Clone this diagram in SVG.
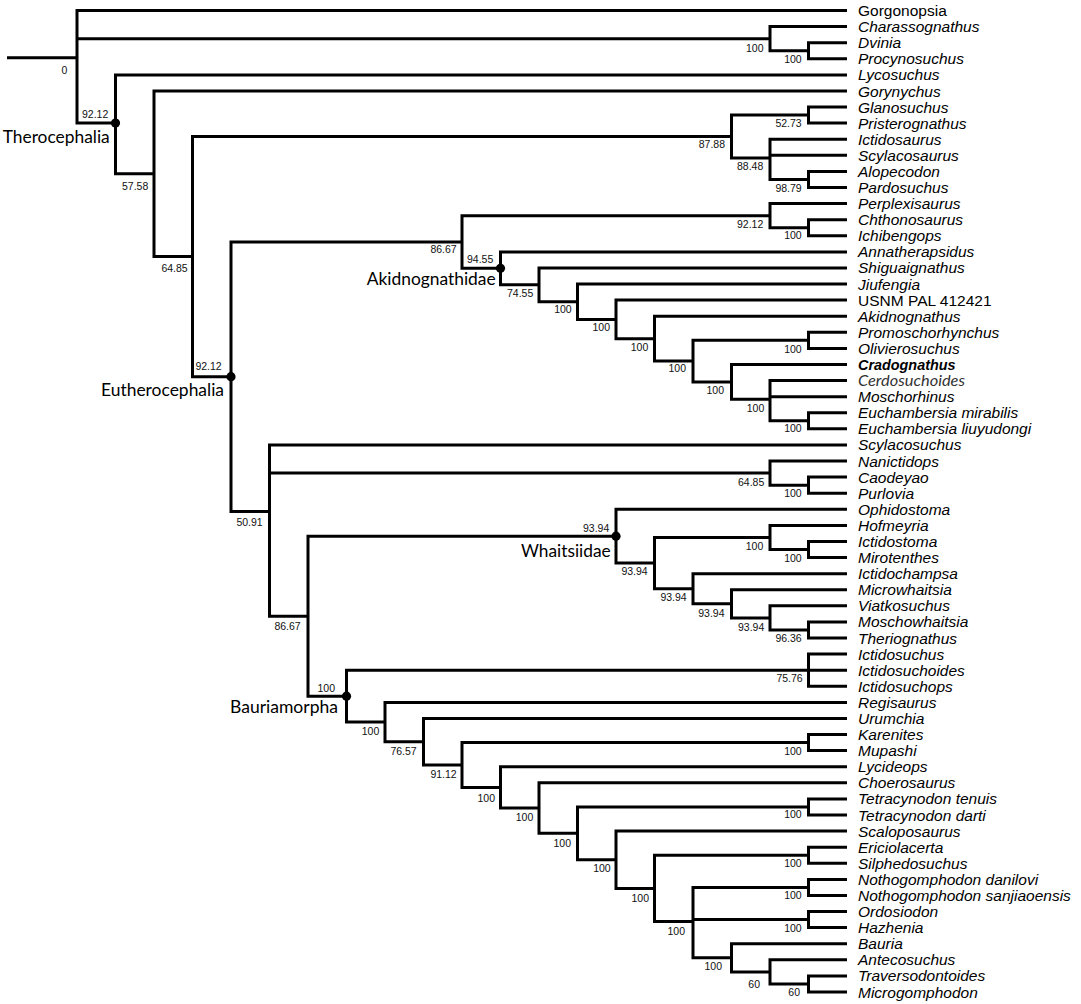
<svg xmlns="http://www.w3.org/2000/svg" width="1081" height="1004" viewBox="0 0 1081 1004">
<style>
.br{fill:none;stroke:#000;stroke-width:3;stroke-linejoin:miter;stroke-linecap:butt}
.tx{font-family:"Liberation Sans",Arial,sans-serif;font-size:15.5px;font-style:italic;fill:#000}
.up{font-style:normal}
.bd{font-weight:bold;font-size:14.4px}
.cd{font-family:Lato,"Liberation Sans",sans-serif;font-size:15.5px;font-style:italic;fill:#333}
.bs{font-family:"Liberation Sans",Arial,sans-serif;font-size:10.5px;fill:#111;text-anchor:end}
.cl{font-family:Lato,"Open Sans","Liberation Sans",sans-serif;font-size:18px;fill:#000}
.dot{fill:#000}
</style>
<rect width="1081" height="1004" fill="#fff"/>
<g id="connectors">
<path class="br" d="M7,57.85H77M847,10.5H77V123H115.5M77,38.7H770"/>
<path class="br" d="M847,26.6H770V50.75H808.5"/>
<path class="br" d="M847,42.7H808.5V58.8H847"/>
<path class="br" d="M847,74.9H115.5V173.8H154"/>
<path class="br" d="M847,91H154V256.6H192.5"/>
<path class="br" d="M731.5,136.5H192.5V376.7H231"/>
<path class="br" d="M808.5,115.05H731.5V157.98H770"/>
<path class="br" d="M847,107H808.5V123.1H847"/>
<path class="br" d="M847,139.2H770V179.45H808.5M770,155.3H847"/>
<path class="br" d="M847,171.4H808.5V187.5H847"/>
<path class="br" d="M462,242H231V511.4H269.5"/>
<path class="br" d="M770,215.7H462V268.35H500.5"/>
<path class="br" d="M847,203.6H770V227.75H808.5"/>
<path class="br" d="M847,219.7H808.5V235.8H847"/>
<path class="br" d="M847,251.9H500.5V284.8H539"/>
<path class="br" d="M847,267.9H539V301.7H577.5"/>
<path class="br" d="M847,284H577.5V319.4H616"/>
<path class="br" d="M847,300.1H616V338.7H654.5"/>
<path class="br" d="M847,316.2H654.5V361.1H693"/>
<path class="br" d="M808.5,340.35H693V381.9H731.5"/>
<path class="br" d="M847,332.3H808.5V348.4H847"/>
<path class="br" d="M847,364.5H731.5V399.37H770"/>
<path class="br" d="M847,380.6H770V420.8H808.5M770,396.7H847"/>
<path class="br" d="M847,412.8H808.5V428.8H847"/>
<path class="br" d="M847,444.9H269.5V616.2H308M269.5,473.1H770"/>
<path class="br" d="M847,461H770V485.15H808.5"/>
<path class="br" d="M847,477.1H808.5V493.2H847"/>
<path class="br" d="M616,536.2H308V696.15H346.5"/>
<path class="br" d="M847,509.3H616V563.1H654.5"/>
<path class="br" d="M770,537.5H654.5V588.75H693"/>
<path class="br" d="M847,525.4H770V549.55H808.5"/>
<path class="br" d="M847,541.5H808.5V557.6H847"/>
<path class="br" d="M847,573.7H693V603.8H731.5"/>
<path class="br" d="M847,589.7H731.5V617.9H770"/>
<path class="br" d="M847,605.8H770V629.95H808.5"/>
<path class="br" d="M847,621.9H808.5V638H847"/>
<path class="br" d="M808.5,670.2H346.5V722.1H385"/>
<path class="br" d="M847,654.1H808.5V686.3H847M808.5,670.2H847"/>
<path class="br" d="M847,702.4H385V741.75H423.5"/>
<path class="br" d="M847,718.5H423.5V765H462"/>
<path class="br" d="M808.5,742.6H462V787.4H500.5"/>
<path class="br" d="M847,734.6H808.5V750.6H847"/>
<path class="br" d="M847,766.7H500.5V808.1H539"/>
<path class="br" d="M847,782.8H539V833.35H577.5"/>
<path class="br" d="M808.5,806.95H577.5V859.75H616"/>
<path class="br" d="M847,798.9H808.5V815H847"/>
<path class="br" d="M847,831.1H616V888.4H654.5"/>
<path class="br" d="M808.5,855.25H654.5V921.6H693"/>
<path class="br" d="M847,847.2H808.5V863.3H847"/>
<path class="br" d="M808.5,887.45H693V957.8H731.5M693,919.55H808.5"/>
<path class="br" d="M847,879.4H808.5V895.5H847"/>
<path class="br" d="M847,911.5H808.5V927.6H847"/>
<path class="br" d="M847,943.7H731.5V971.9H770"/>
<path class="br" d="M847,959.8H770V983.95H808.5"/>
<path class="br" d="M847,975.9H808.5V992H847"/>
</g>
<g id="clades">
<g id="therocephalia"><circle class="dot" cx="115.5" cy="123" r="4.6"/><text class="cl" x="2.7" y="143" textLength="107" lengthAdjust="spacingAndGlyphs">Therocephalia</text></g>
<g id="eutherocephalia"><circle class="dot" cx="231" cy="376.7" r="4.6"/><text class="cl" x="101" y="396" textLength="123" lengthAdjust="spacingAndGlyphs">Eutherocephalia</text></g>
<g id="akidnognathidae"><circle class="dot" cx="500.5" cy="268.35" r="4.6"/><text class="cl" x="366.7" y="285" textLength="129" lengthAdjust="spacingAndGlyphs">Akidnognathidae</text></g>
<g id="whaitsiidae"><circle class="dot" cx="616" cy="536.2" r="4.6"/><text class="cl" x="521" y="557" textLength="89.7" lengthAdjust="spacingAndGlyphs">Whaitsiidae</text></g>
<g id="bauriamorpha"><circle class="dot" cx="346.5" cy="696.15" r="4.6"/><text class="cl" x="230" y="713" textLength="108" lengthAdjust="spacingAndGlyphs">Bauriamorpha</text></g>
</g>
<g id="support">
<text class="bs" x="67.3" y="74">0</text>
<text class="bs" x="108.3" y="118.3">92.12</text>
<text class="bs" x="148.3" y="190">57.58</text>
<text class="bs" x="187.7" y="271.7">64.85</text>
<text class="bs" x="221.7" y="369.5">92.12</text>
<text class="bs" x="763.5" y="51.5">100</text>
<text class="bs" x="801.7" y="63.3">100</text>
<text class="bs" x="725" y="148.3">87.88</text>
<text class="bs" x="801.7" y="127">52.73</text>
<text class="bs" x="763.3" y="169.5">88.48</text>
<text class="bs" x="801.7" y="191.7">98.79</text>
<text class="bs" x="456.7" y="252.7">86.67</text>
<text class="bs" x="763.3" y="227.7">92.12</text>
<text class="bs" x="801.7" y="239.3">100</text>
<text class="bs" x="493.3" y="262.7">94.55</text>
<text class="bs" x="533.3" y="296.7">74.55</text>
<text class="bs" x="571.7" y="312.7">100</text>
<text class="bs" x="610" y="331">100</text>
<text class="bs" x="648.3" y="350.7">100</text>
<text class="bs" x="686" y="371.7">100</text>
<text class="bs" x="724" y="394">100</text>
<text class="bs" x="801.7" y="352.7">100</text>
<text class="bs" x="764.3" y="411.7">100</text>
<text class="bs" x="801.7" y="431.7">100</text>
<text class="bs" x="262.7" y="525.5">50.91</text>
<text class="bs" x="764.3" y="486">64.85</text>
<text class="bs" x="801.7" y="496.7">100</text>
<text class="bs" x="300.7" y="630">86.67</text>
<text class="bs" x="609.3" y="531.5">93.94</text>
<text class="bs" x="647.7" y="575">93.94</text>
<text class="bs" x="763.3" y="550">100</text>
<text class="bs" x="801.7" y="561.7">100</text>
<text class="bs" x="686.7" y="601">93.94</text>
<text class="bs" x="724.5" y="616.5">93.94</text>
<text class="bs" x="764.3" y="631">93.94</text>
<text class="bs" x="801.7" y="641.7">96.36</text>
<text class="bs" x="335" y="691.5">100</text>
<text class="bs" x="802.7" y="681.7">75.76</text>
<text class="bs" x="379.3" y="735">100</text>
<text class="bs" x="416.7" y="755">76.57</text>
<text class="bs" x="456.7" y="778">91.12</text>
<text class="bs" x="801.7" y="755">100</text>
<text class="bs" x="495" y="801.7">100</text>
<text class="bs" x="533.3" y="820.7">100</text>
<text class="bs" x="571" y="847.3">100</text>
<text class="bs" x="801.7" y="818.3">100</text>
<text class="bs" x="610.7" y="871.7">100</text>
<text class="bs" x="649" y="901.7">100</text>
<text class="bs" x="801.7" y="866.7">100</text>
<text class="bs" x="685" y="935">100</text>
<text class="bs" x="801.7" y="898.5">100</text>
<text class="bs" x="801.7" y="931.7">100</text>
<text class="bs" x="722" y="970">100</text>
<text class="bs" x="760" y="988">60</text>
<text class="bs" x="800" y="996">60</text>
</g>
<g id="taxa">
<g id="t0"><text class="tx up" x="858" y="16">Gorgonopsia</text></g>
<g id="t1"><text class="tx" x="858" y="32.1">Charassognathus</text></g>
<g id="t2"><text class="tx" x="858" y="48.2">Dvinia</text></g>
<g id="t3"><text class="tx" x="858" y="64.3">Procynosuchus</text></g>
<g id="t4"><text class="tx" x="858" y="80.4">Lycosuchus</text></g>
<g id="t5"><text class="tx" x="858" y="96.5">Gorynychus</text></g>
<g id="t6"><text class="tx" x="858" y="112.5">Glanosuchus</text></g>
<g id="t7"><text class="tx" x="858" y="128.6">Pristerognathus</text></g>
<g id="t8"><text class="tx" x="858" y="144.7">Ictidosaurus</text></g>
<g id="t9"><text class="tx" x="858" y="160.8">Scylacosaurus</text></g>
<g id="t10"><text class="tx" x="858" y="176.9">Alopecodon</text></g>
<g id="t11"><text class="tx" x="858" y="193">Pardosuchus</text></g>
<g id="t12"><text class="tx" x="858" y="209.1">Perplexisaurus</text></g>
<g id="t13"><text class="tx" x="858" y="225.2">Chthonosaurus</text></g>
<g id="t14"><text class="tx" x="858" y="241.3">Ichibengops</text></g>
<g id="t15"><text class="tx" x="858" y="257.4">Annatherapsidus</text></g>
<g id="t16"><text class="tx" x="858" y="273.4">Shiguaignathus</text></g>
<g id="t17"><text class="tx" x="858" y="289.5">Jiufengia</text></g>
<g id="t18"><text class="tx up" x="858" y="305.6">USNM PAL 412421</text></g>
<g id="t19"><text class="tx" x="858" y="321.7">Akidnognathus</text></g>
<g id="t20"><text class="tx" x="858" y="337.8">Promoschorhynchus</text></g>
<g id="t21"><text class="tx" x="858" y="353.9">Olivierosuchus</text></g>
<g id="t22"><text class="tx bd" x="858" y="369.6">Cradognathus</text></g>
<g id="t23"><text class="cd" x="858" y="386.4" textLength="107" lengthAdjust="spacingAndGlyphs">Cerdosuchoides</text></g>
<g id="t24"><text class="tx" x="858" y="402.2">Moschorhinus</text></g>
<g id="t25"><text class="tx" x="858" y="418.3">Euchambersia mirabilis</text></g>
<g id="t26"><text class="tx" x="858" y="434.3">Euchambersia liuyudongi</text></g>
<g id="t27"><text class="tx" x="858" y="450.4">Scylacosuchus</text></g>
<g id="t28"><text class="tx" x="858" y="466.5">Nanictidops</text></g>
<g id="t29"><text class="tx" x="858" y="482.6">Caodeyao</text></g>
<g id="t30"><text class="tx" x="858" y="498.7">Purlovia</text></g>
<g id="t31"><text class="tx" x="858" y="514.8">Ophidostoma</text></g>
<g id="t32"><text class="tx" x="858" y="530.9">Hofmeyria</text></g>
<g id="t33"><text class="tx" x="858" y="547">Ictidostoma</text></g>
<g id="t34"><text class="tx" x="858" y="563.1">Mirotenthes</text></g>
<g id="t35"><text class="tx" x="858" y="579.2">Ictidochampsa</text></g>
<g id="t36"><text class="tx" x="858" y="595.2">Microwhaitsia</text></g>
<g id="t37"><text class="tx" x="858" y="611.3">Viatkosuchus</text></g>
<g id="t38"><text class="tx" x="858" y="627.4">Moschowhaitsia</text></g>
<g id="t39"><text class="tx" x="858" y="643.5">Theriognathus</text></g>
<g id="t40"><text class="tx" x="858" y="659.6">Ictidosuchus</text></g>
<g id="t41"><text class="tx" x="858" y="675.7">Ictidosuchoides</text></g>
<g id="t42"><text class="tx" x="858" y="691.8">Ictidosuchops</text></g>
<g id="t43"><text class="tx" x="858" y="707.9">Regisaurus</text></g>
<g id="t44"><text class="tx" x="858" y="724">Urumchia</text></g>
<g id="t45"><text class="tx" x="858" y="740.1">Karenites</text></g>
<g id="t46"><text class="tx" x="858" y="756.1">Mupashi</text></g>
<g id="t47"><text class="tx" x="858" y="772.2">Lycideops</text></g>
<g id="t48"><text class="tx" x="858" y="788.3">Choerosaurus</text></g>
<g id="t49"><text class="tx" x="858" y="804.4">Tetracynodon tenuis</text></g>
<g id="t50"><text class="tx" x="858" y="820.5">Tetracynodon darti</text></g>
<g id="t51"><text class="tx" x="858" y="836.6">Scaloposaurus</text></g>
<g id="t52"><text class="tx" x="858" y="852.7">Ericiolacerta</text></g>
<g id="t53"><text class="tx" x="858" y="868.8">Silphedosuchus</text></g>
<g id="t54"><text class="tx" x="858" y="884.9">Nothogomphodon danilovi</text></g>
<g id="t55"><text class="tx" x="858" y="901">Nothogomphodon sanjiaoensis</text></g>
<g id="t56"><text class="tx" x="858" y="917">Ordosiodon</text></g>
<g id="t57"><text class="tx" x="858" y="933.1">Hazhenia</text></g>
<g id="t58"><text class="tx" x="858" y="949.2">Bauria</text></g>
<g id="t59"><text class="tx" x="858" y="965.3">Antecosuchus</text></g>
<g id="t60"><text class="tx" x="858" y="981.4">Traversodontoides</text></g>
<g id="t61"><text class="tx" x="858" y="997.5">Microgomphodon</text></g>
</g>
</svg>
